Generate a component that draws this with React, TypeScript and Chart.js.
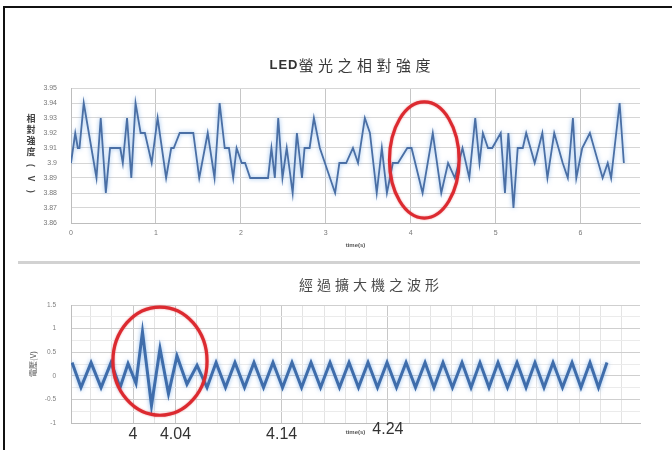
import React, { useEffect, useRef } from 'react';
import { Chart, registerables } from 'chart.js';

Chart.register(...registerables);

const FONT = '"Liberation Sans", Arial, sans-serif';
const CJK = '"Noto Sans CJK TC", "Noto Sans CJK SC", "Liberation Sans", sans-serif';

// ---- Upper panel: relative LED fluorescence intensity (V) against time (s) ----
const LED_TITLE_LATIN = 'LED';
const LED_TITLE_CJK = '螢光之相對強度';
const LED_Y_TITLE = ['相', '對', '強', '度'];
const LED_Y_UNIT = ['(', 'V', ')'];
const LED_X_TITLE = 'time(s)';
const LED_X_RANGE = [0, 6.7];
const LED_X_TICKS = [0, 1, 2, 3, 4, 5, 6];
const LED_Y_TICKS = [3.86, 3.87, 3.88, 3.89, 3.9, 3.91, 3.92, 3.93, 3.94, 3.95];

const LED_TIME = [
  0, 0.05, 0.08, 0.1, 0.15, 0.3, 0.35, 0.41, 0.46, 0.58,
  0.61, 0.66, 0.71, 0.76, 0.82, 0.87, 0.95, 1.02, 1.12, 1.18,
  1.21, 1.28, 1.44, 1.51, 1.61, 1.69, 1.75, 1.81, 1.86, 1.91,
  1.95, 2.01, 2.05, 2.11, 2.32, 2.36, 2.4, 2.44, 2.49, 2.54,
  2.61, 2.66, 2.72, 2.75, 2.81, 2.86, 2.93, 3.11, 3.16, 3.24,
  3.32, 3.38, 3.46, 3.52, 3.6, 3.66, 3.72, 3.79, 3.85, 3.96,
  4.01, 4.14, 4.26, 4.36, 4.44, 4.52, 4.61, 4.69, 4.76, 4.81,
  4.85, 4.91, 4.96, 5.06, 5.11, 5.15, 5.21, 5.26, 5.32, 5.36,
  5.46, 5.55, 5.61, 5.69, 5.79, 5.85, 5.91, 5.95, 6.02, 6.11,
  6.16, 6.26, 6.32, 6.36, 6.46, 6.51,
];
const LED_VOLT = [
  3.9, 3.92, 3.91, 3.91, 3.94, 3.89, 3.93, 3.88, 3.91, 3.91,
  3.9, 3.93, 3.89, 3.94, 3.92, 3.92, 3.9, 3.93, 3.89, 3.91,
  3.91, 3.92, 3.92, 3.89, 3.92, 3.89, 3.94, 3.91, 3.91, 3.89,
  3.91, 3.9, 3.9, 3.89, 3.89, 3.91, 3.89, 3.93, 3.89, 3.91,
  3.88, 3.92, 3.89, 3.91, 3.91, 3.93, 3.91, 3.88, 3.9, 3.9,
  3.91, 3.9, 3.93, 3.92, 3.88, 3.91, 3.88, 3.9, 3.9, 3.91,
  3.91, 3.88, 3.92, 3.88, 3.9, 3.89, 3.91, 3.89, 3.93, 3.9,
  3.92, 3.91, 3.91, 3.92, 3.88, 3.92, 3.87, 3.91, 3.91, 3.92,
  3.9, 3.92, 3.89, 3.92, 3.9, 3.89, 3.93, 3.89, 3.91, 3.92,
  3.91, 3.89, 3.9, 3.89, 3.94, 3.9,
];
// circled stretch of the trace (centre and half-extent in data units)
const LED_HIGHLIGHT = { x: 4.16, y: 3.902, rx: 0.41, ry: 0.0387 };

// ---- Lower panel: waveform after the amplifier ----
const AMP_TITLE = '經過擴大機之波形';
const AMP_Y_TITLE = '電壓(V)';
const AMP_X_TITLE = 'time(s)';
const AMP_X_RANGE = [3.9416, 4.4774];
const AMP_X_TICKS = [4, 4.04, 4.14, 4.24];
const AMP_X_LABELS = ['4', '4.04', '4.14', '4.24'];
// lighter vertical rules between the labelled times
const AMP_X_MINOR = [
  3.96, 3.98, 4.02, 4.06, 4.08, 4.1, 4.12, 4.16, 4.18, 4.2, 4.22,
  4.26, 4.28, 4.3, 4.32, 4.34, 4.36, 4.38, 4.4, 4.42, 4.44, 4.46,
];
const AMP_Y_GRID = [-1, -0.75, -0.5, -0.25, 0, 0.25, 0.5, 0.75, 1, 1.25, 1.5];

const AMP_TIME = [
  3.9426, 3.951, 3.9605, 3.9699, 3.9793, 3.9878, 3.9953, 4.0028, 4.0089, 4.0174,
  4.0254, 4.0334, 4.0414, 4.0508, 4.0603, 4.0697, 4.0782, 4.0871, 4.096, 4.105,
  4.1139, 4.1229, 4.1318, 4.1408, 4.1497, 4.1587, 4.1676, 4.1766, 4.1855, 4.1944,
  4.2034, 4.2123, 4.2213, 4.2302, 4.2392, 4.2481, 4.2571, 4.266, 4.275, 4.2834,
  4.2919, 4.3008, 4.3098, 4.3183, 4.3267, 4.3352, 4.3437, 4.3526, 4.3616, 4.3701,
  4.3785, 4.387, 4.3955, 4.4044, 4.4134, 4.4218, 4.4303, 4.4383, 4.4463,
];
const AMP_VOLT = [
  0.28, -0.25, 0.28, -0.25, 0.28, -0.25, 0.26, -0.16, 0.93, -0.63,
  0.58, -0.38, 0.42, -0.18, 0.22, -0.25, 0.28, -0.25, 0.28, -0.25,
  0.28, -0.25, 0.28, -0.25, 0.28, -0.25, 0.28, -0.25, 0.28, -0.25,
  0.28, -0.25, 0.28, -0.25, 0.28, -0.25, 0.28, -0.25, 0.28, -0.25,
  0.28, -0.25, 0.28, -0.25, 0.28, -0.25, 0.28, -0.25, 0.28, -0.25,
  0.28, -0.25, 0.28, -0.25, 0.28, -0.25, 0.28, -0.25, 0.28,
];
const AMP_HIGHLIGHT = { x: 4.0254, y: 0.31, rx: 0.0443, ry: 1.146 };

type Highlight = { x: number; y: number; rx: number; ry: number };

// soft blue halo around the trace
const glowPlugin = {
  id: 'glow',
  beforeDatasetsDraw(chart: any) {
    const ctx = chart.ctx;
    ctx.save();
    ctx.shadowColor = 'rgba(110, 165, 230, 0.75)';
    ctx.shadowBlur = 4;
  },
  afterDatasetsDraw(chart: any) {
    chart.ctx.restore();
  },
};

// red ring drawn around a region of the data
const ringPlugin = (h: Highlight) => ({
  id: 'ring',
  afterDraw(chart: any) {
    const { x: xs, y: ys } = chart.scales;
    const cx = xs.getPixelForValue(h.x);
    const cy = ys.getPixelForValue(h.y);
    const rx = Math.abs(xs.getPixelForValue(h.x + h.rx) - cx);
    const ry = Math.abs(ys.getPixelForValue(h.y + h.ry) - cy);
    const ctx = chart.ctx;
    ctx.save();
    ctx.beginPath();
    ctx.ellipse(cx, cy, rx, ry, 0, 0, Math.PI * 2);
    ctx.strokeStyle = '#dc2a30';
    ctx.lineWidth = 3.2;
    ctx.shadowColor = 'rgba(220, 40, 48, 0.5)';
    ctx.shadowBlur = 2;
    ctx.stroke();
    ctx.restore();
  },
});

// spaced-out heading text centred on a given x
function drawHeading(
  ctx: CanvasRenderingContext2D,
  parts: { text: string; font: string; spacing: number; color: string }[],
  cx: number,
  cy: number,
) {
  ctx.save();
  ctx.textBaseline = 'middle';
  ctx.textAlign = 'left';
  const glyphs: { ch: string; font: string; color: string; w: number }[] = [];
  parts.forEach((p) => {
    ctx.font = p.font;
    for (const ch of p.text) glyphs.push({ ch, font: p.font, color: p.color, w: ctx.measureText(ch).width + p.spacing });
  });
  const last = parts[parts.length - 1];
  const total = glyphs.reduce((a, g) => a + g.w, 0) - last.spacing;
  let x = cx - total / 2;
  glyphs.forEach((g) => {
    ctx.font = g.font;
    ctx.fillStyle = g.color;
    ctx.fillText(g.ch, x, cy);
    x += g.w;
  });
  ctx.restore();
}

const ledTitlePlugin = {
  id: 'ledTitle',
  afterDraw(chart: any) {
    const ctx = chart.ctx as CanvasRenderingContext2D;
    drawHeading(
      ctx,
      [
        { text: LED_TITLE_LATIN, font: `bold 13px ${FONT}`, spacing: 1, color: '#333' },
        { text: LED_TITLE_CJK, font: `15px ${CJK}`, spacing: 4.5, color: '#3a3a3a' },
      ],
      350,
      15,
    );
    // stacked vertical axis caption
    const mid = (chart.chartArea.top + chart.chartArea.bottom) / 2;
    ctx.save();
    ctx.fillStyle = '#444';
    ctx.font = `bold 9px ${CJK}`;
    ctx.textAlign = 'center';
    ctx.textBaseline = 'middle';
    LED_Y_TITLE.forEach((ch, i) => ctx.fillText(ch, 31, mid - 37 + i * 11));
    LED_Y_UNIT.forEach((ch, i) => {
      ctx.save();
      ctx.translate(31, mid + 10 + i * 13);
      ctx.rotate(Math.PI / 2);
      ctx.fillText(ch, 0, 0);
      ctx.restore();
    });
    ctx.restore();
  },
};

const ampTitlePlugin = {
  id: 'ampTitle',
  afterDraw(chart: any) {
    const ctx = chart.ctx as CanvasRenderingContext2D;
    drawHeading(ctx, [{ text: AMP_TITLE, font: `14px ${CJK}`, spacing: 4, color: '#4a4a4a' }], 369, 17);
    // large time labels under the axis
    const xs = chart.scales.x;
    const raised = new Set(['4.24']);
    ctx.save();
    ctx.font = `16px ${FONT}`;
    ctx.fillStyle = '#333';
    ctx.textAlign = 'center';
    ctx.textBaseline = 'middle';
    AMP_X_TICKS.forEach((v, i) => {
      const label = AMP_X_LABELS[i];
      const y = chart.chartArea.bottom + (raised.has(label) ? 7 : 12);
      ctx.fillText(label, xs.getPixelForValue(v), y);
    });
    ctx.restore();
  },
};

function ledConfig(): any {
  return {
    type: 'line',
    data: {
      datasets: [
        {
          data: LED_TIME.map((t, i) => ({ x: t, y: LED_VOLT[i] })),
          borderColor: '#4a6fa5',
          borderWidth: 1.8,
          pointRadius: 0,
          tension: 0,
          fill: false,
        },
      ],
    },
    options: {
      animation: false,
      responsive: false,
      layout: { padding: { top: 38, right: 32, left: 0, bottom: 0 } },
      plugins: { legend: { display: false }, tooltip: { enabled: false }, title: { display: false } },
      scales: {
        x: {
          type: 'linear',
          min: LED_X_RANGE[0],
          max: LED_X_RANGE[1],
          afterBuildTicks: (s: any) => {
            s.ticks = LED_X_TICKS.map((v) => ({ value: v }));
          },
          ticks: {
            font: { size: 7, family: FONT },
            color: '#777',
            padding: 6,
            maxRotation: 0,
            autoSkip: false,
            callback: (v: number) => String(v),
          },
          grid: { color: '#c6c6c6', drawTicks: false },
          border: { color: '#bdbdbd' },
          title: {
            display: true,
            text: LED_X_TITLE,
            font: { size: 6, weight: 'bold', family: FONT },
            color: '#555',
            padding: { top: 0, bottom: 13 },
          },
          afterFit: (s: any) => {
            s.height = 39;
          },
        },
        y: {
          type: 'linear',
          min: LED_Y_TICKS[0],
          max: LED_Y_TICKS[LED_Y_TICKS.length - 1],
          afterBuildTicks: (s: any) => {
            s.ticks = LED_Y_TICKS.map((v) => ({ value: v }));
          },
          ticks: {
            font: { size: 7, family: FONT },
            color: '#777',
            padding: 14,
            autoSkip: false,
            callback: (v: number) => String(Number(v.toFixed(2))),
          },
          grid: { color: '#d6d6d6', drawTicks: false },
          border: { color: '#bdbdbd' },
          afterFit: (s: any) => {
            s.width = 71;
          },
        },
      },
    },
    plugins: [glowPlugin, ringPlugin(LED_HIGHLIGHT), ledTitlePlugin],
  };
}

function ampConfig(): any {
  const isMajorY = (v: number) => Math.abs(v * 2 - Math.round(v * 2)) < 1e-9;
  const labelled = new Set(AMP_X_TICKS);
  return {
    type: 'line',
    data: {
      datasets: [
        {
          data: AMP_TIME.map((t, i) => ({ x: t, y: AMP_VOLT[i] })),
          borderColor: '#3f6dab',
          borderWidth: 3,
          pointRadius: 0,
          tension: 0,
          fill: false,
        },
      ],
    },
    options: {
      animation: false,
      responsive: false,
      layout: { padding: { top: 37, right: 32, left: 0, bottom: 0 } },
      plugins: { legend: { display: false }, tooltip: { enabled: false }, title: { display: false } },
      scales: {
        x: {
          type: 'linear',
          min: AMP_X_RANGE[0],
          max: AMP_X_RANGE[1],
          afterBuildTicks: (s: any) => {
            s.ticks = [...AMP_X_TICKS, ...AMP_X_MINOR].sort((a, b) => a - b).map((v) => ({ value: v }));
          },
          ticks: { display: false },
          grid: {
            drawTicks: false,
            color: (c: any) => (c.tick && labelled.has(c.tick.value) ? '#c8c8c8' : '#e4e4e4'),
          },
          border: { color: '#bdbdbd' },
          title: {
            display: true,
            text: AMP_X_TITLE,
            font: { size: 6, weight: 'bold', family: FONT },
            color: '#555',
            padding: { top: 0, bottom: 14 },
          },
          afterFit: (s: any) => {
            s.height = 27;
          },
        },
        y: {
          type: 'linear',
          min: AMP_Y_GRID[0],
          max: AMP_Y_GRID[AMP_Y_GRID.length - 1],
          afterBuildTicks: (s: any) => {
            s.ticks = AMP_Y_GRID.map((v) => ({ value: v }));
          },
          ticks: {
            font: { size: 6.5, family: FONT },
            color: '#808080',
            padding: 15,
            autoSkip: false,
            callback: (v: number) => (isMajorY(v) ? String(v) : ''),
          },
          grid: {
            drawTicks: false,
            color: (c: any) => (c.tick && isMajorY(c.tick.value) ? '#cfcfcf' : '#ebebeb'),
          },
          border: { color: '#bdbdbd' },
          title: {
            display: true,
            text: AMP_Y_TITLE,
            font: { size: 8, family: CJK },
            color: '#555',
            padding: { top: 28, bottom: 0 },
          },
          afterFit: (s: any) => {
            s.width = 71;
          },
        },
      },
    },
    plugins: [glowPlugin, ringPlugin(AMP_HIGHLIGHT), ampTitlePlugin],
  };
}

export default function App() {
  const topRef = useRef<HTMLCanvasElement>(null);
  const bottomRef = useRef<HTMLCanvasElement>(null);

  useEffect(() => {
    const charts: Chart[] = [];
    if (topRef.current) charts.push(new Chart(topRef.current, ledConfig()));
    if (bottomRef.current) charts.push(new Chart(bottomRef.current, ampConfig()));
    return () => charts.forEach((c) => c.destroy());
  }, []);

  return (
    <div
      style={{
        position: 'fixed',
        left: 0,
        top: 0,
        width: 672,
        height: 450,
        background: '#fff',
        overflow: 'hidden',
      }}
    >
      <div
        style={{
          position: 'absolute',
          left: 3,
          top: 6,
          width: 720,
          height: 500,
          borderTop: '2px solid #111',
          borderLeft: '2px solid #111',
        }}
      />
      <div style={{ position: 'absolute', left: 18, top: 261, width: 622, height: 3, background: '#d2d2d2' }} />
      <canvas
        ref={topRef}
        width={672}
        height={212}
        style={{ position: 'absolute', left: 0, top: 50, width: 672, height: 212 }}
      />
      <canvas
        ref={bottomRef}
        width={672}
        height={182}
        style={{ position: 'absolute', left: 0, top: 268, width: 672, height: 182 }}
      />
    </div>
  );
}
